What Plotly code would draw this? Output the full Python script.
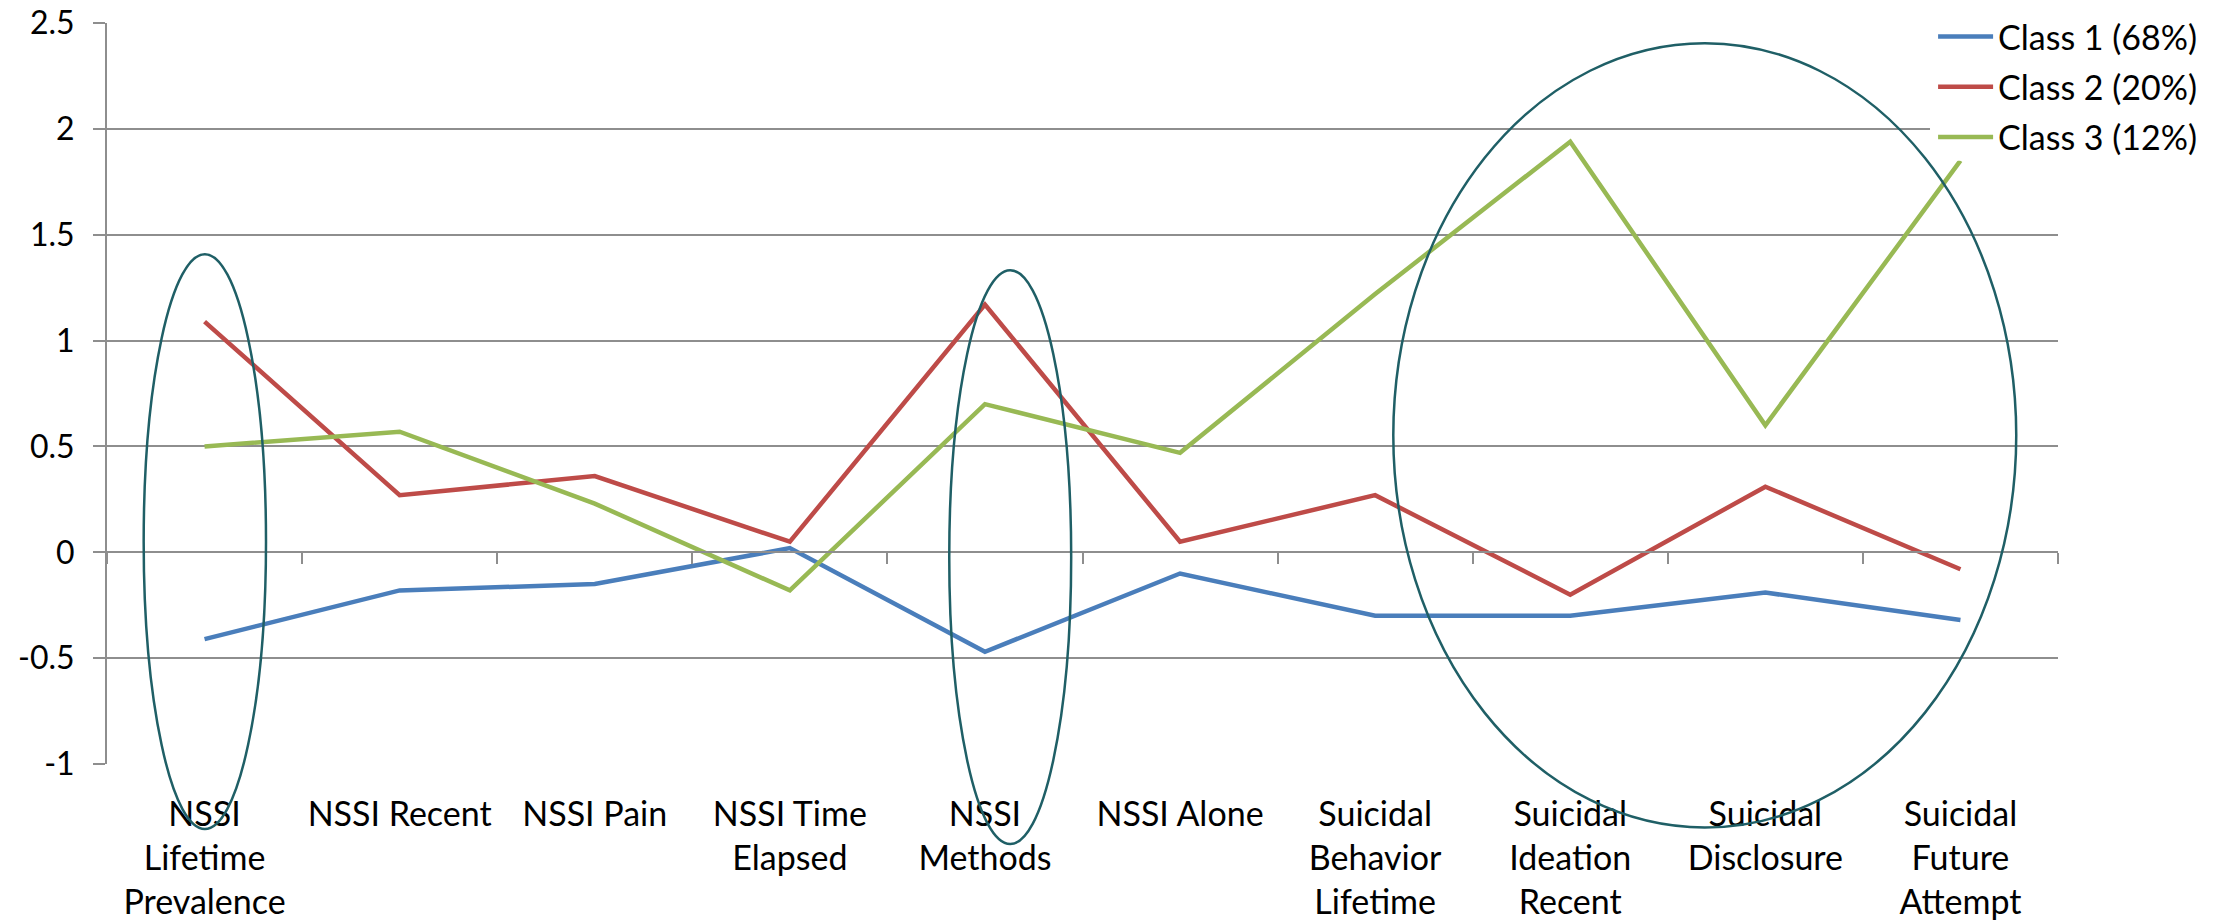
import plotly.graph_objects as go

categories = ["NSSI Lifetime Prevalence", "NSSI Recent", "NSSI Pain", "NSSI Time Elapsed",
              "NSSI Methods", "NSSI Alone", "Suicidal Behavior Lifetime",
              "Suicidal Ideation Recent", "Suicidal Disclosure", "Suicidal Future Attempt"]
tick_labels = ["NSSI<br>Lifetime<br>Prevalence", "NSSI Recent", "NSSI Pain", "NSSI Time<br>Elapsed",
               "NSSI<br>Methods", "NSSI Alone", "Suicidal<br>Behavior<br>Lifetime",
               "Suicidal<br>Ideation<br>Recent", "Suicidal<br>Disclosure", "Suicidal<br>Future<br>Attempt"]
y_tick_vals = [-1, -0.5, 0, 0.5, 1, 1.5, 2, 2.5]
y_tick_text = ["-1", "-0.5", "0", "0.5", "1", "1.5", "2", "2.5"]
series_names = ["Class 1 (68%)", "Class 2 (20%)", "Class 3 (12%)"]
class1 = [-0.41, -0.18, -0.15, 0.02, -0.47, -0.10, -0.30, -0.30, -0.19, -0.32]
class2 = [1.09, 0.27, 0.36, 0.05, 1.17, 0.05, 0.27, -0.20, 0.31, -0.08]
class3 = [0.50, 0.57, 0.23, -0.18, 0.70, 0.47, 1.22, 1.94, 0.60, 1.85]
colors = ["#4A7EBB", "#BE4B48", "#98B954"]

# highlighted groups: (x-index from, x-index to, y from, y to) in data units
ellipses = [(-0.312, 0.315, -1.307, 1.408),
            (3.817, 4.442, -1.378, 1.333),
            (6.093, 9.286, -1.30, 2.405)]

Y_RANGE = [-1, 2.5005]
X_RANGE = [-0.5, len(categories) - 0.5]
FONT = "Lato, 'Open Sans', sans-serif"
GRID = "#8E8E8E"

fig = go.Figure()
for name, vals, col in zip(series_names, [class1, class2, class3], colors):
    fig.add_trace(go.Scatter(x=categories, y=vals, mode="lines", name=name,
                             legendgroup=name,
                             line=dict(color=col, width=4.5)))

def px_(v):
    return (v - X_RANGE[0]) / (X_RANGE[1] - X_RANGE[0])

def py_(v):
    return (v - Y_RANGE[0]) / (Y_RANGE[1] - Y_RANGE[0])

# white backing behind legend (legend covers gridlines and line end in the original)
fig.add_shape(type="rect", xref="paper", yref="paper", x0=0.9344, x1=1.1, y0=py_(1.85), y1=1.05,
              fillcolor="white", line=dict(width=0), layer="above")
for x0, x1, y0, y1 in ellipses:
    fig.add_shape(type="circle", xref="paper", yref="paper",
                  x0=px_(x0), x1=px_(x1), y0=py_(y0), y1=py_(y1),
                  line=dict(color="#1F5F66", width=2.5), layer="above")

zero_pos = py_(0)
fig.update_layout(
    width=2213, height=923,
    margin=dict(l=99, r=163, t=15, b=167, autoexpand=False),
    paper_bgcolor="white", plot_bgcolor="white",
    font=dict(family=FONT, size=34, color="black"),
    showlegend=True,
    legend=dict(xref="container", yref="container", x=0.8699, y=1.011,
                xanchor="left", yanchor="top",
                bgcolor="rgba(0,0,0,0)", font=dict(size=34), tracegroupgap=3,
                itemwidth=55),
    xaxis=dict(type="category", categoryorder="array", categoryarray=categories,
               tickmode="array", tickvals=categories, ticktext=tick_labels,
               range=X_RANGE, showgrid=False, zeroline=False, showline=False,
               ticks="outside", ticklen=20, tickcolor="rgba(0,0,0,0)",
               tickfont=dict(size=34), automargin=False),
    xaxis2=dict(overlaying="x", anchor="free", position=zero_pos, side="bottom",
                range=X_RANGE, tickmode="linear", tick0=-0.5, dtick=1,
                ticks="outside", ticklen=11, tickwidth=2, tickcolor=GRID,
                showticklabels=False, showgrid=False, zeroline=False,
                showline=True, linecolor=GRID, linewidth=2, automargin=False),
    yaxis=dict(range=Y_RANGE, tickmode="array", tickvals=y_tick_vals, ticktext=y_tick_text,
               showgrid=True, gridcolor=GRID, gridwidth=2,
               zeroline=True, zerolinecolor=GRID, zerolinewidth=2,
               showline=True, linecolor=GRID, linewidth=2, mirror=False,
               ticks="outside", ticklen=12, tickwidth=2, tickcolor=GRID,
               ticklabelstandoff=12, ticklabeloverflow="allow",
               tickfont=dict(size=32), automargin=False),
)
# dummy invisible trace so xaxis2 is active
fig.add_trace(go.Scatter(x=[0], y=[0], xaxis="x2", yaxis="y", mode="markers",
                         marker=dict(opacity=0), showlegend=False, hoverinfo="skip"))
fig.write_html("out.html")
